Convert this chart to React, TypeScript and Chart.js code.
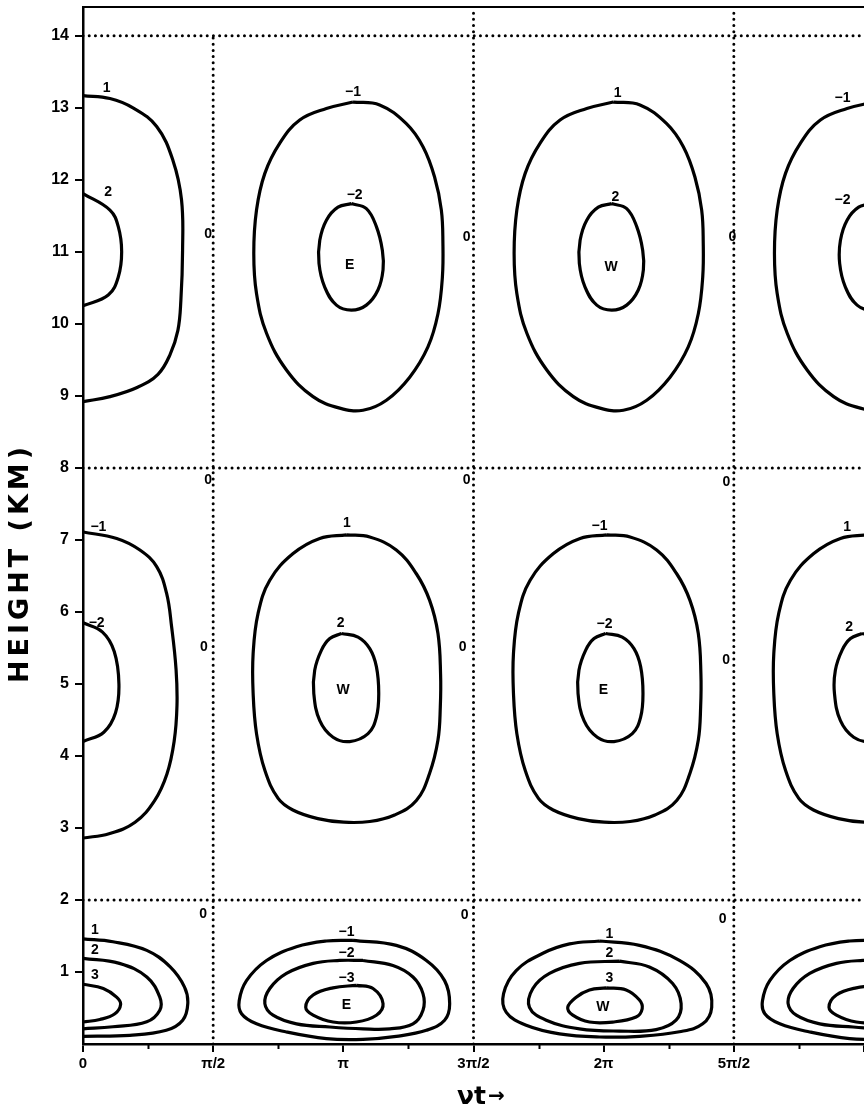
import React, { useEffect, useRef } from 'react';
import { Chart, registerables } from 'chart.js';

Chart.register(...registerables);

type Pt = [number, number];

// x is the phase νt measured in units of π/2; y is height in km
const X_TICK_VALUES = [0, 1, 2, 3, 4, 5, 6];
const X_TICK_LABELS = ['0', 'π/2', 'π', '3π/2', '2π', '5π/2', ''];
const X_MINOR_TICKS = [0.5, 1.5, 2.5, 3.5, 4.5, 5.5];
const Y_TICK_LABELS = ['', '1', '2', '3', '4', '5', '6', '7', '8', '9', '10', '11', '12', '13', '14'];

// dotted reference lines (zero lines of the field)
const REF_HEIGHTS = [2, 8, 14];
const REF_PHASES = [1, 3, 5];
const REF_PHASE_TOPS = [14, 14.4, 14.4];

// ---- contours (upper row, cell at νt = π) ----
const TOP_OUTER: Pt[] = [
  [2.074, 13.08], [2.279, 13.04], [2.484, 12.78], [2.612, 12.46], [2.701, 12.04], [2.753, 11.58],
  [2.765, 11.12], [2.761, 10.65], [2.727, 10.14], [2.65, 9.68], [2.51, 9.26], [2.331, 8.94],
  [2.151, 8.8], [1.972, 8.83], [1.767, 8.99], [1.563, 9.36], [1.41, 9.87], [1.333, 10.42],
  [1.312, 10.98], [1.333, 11.58], [1.397, 12.09], [1.512, 12.51], [1.665, 12.83], [1.87, 12.99],
];
const TOP_INNER: Pt[] = [
  [2.062, 11.67], [2.177, 11.6], [2.254, 11.35], [2.3, 11.02], [2.305, 10.75], [2.266, 10.47],
  [2.177, 10.26], [2.062, 10.19], [1.947, 10.26], [1.857, 10.51], [1.813, 10.84], [1.819, 11.16],
  [1.87, 11.44], [1.959, 11.62],
];
// ---- middle row, cell at νt = π ----
const MID_OUTER: Pt[] = [
  [2.024, 7.07], [2.203, 7.04], [2.407, 6.86], [2.561, 6.53], [2.663, 6.16], [2.727, 5.7],
  [2.747, 5.14], [2.745, 4.68], [2.727, 4.22], [2.663, 3.76], [2.561, 3.38], [2.394, 3.18],
  [2.203, 3.09], [2.003, 3.08], [1.804, 3.13], [1.612, 3.25], [1.499, 3.41], [1.397, 3.8],
  [1.333, 4.31], [1.307, 4.87], [1.307, 5.42], [1.345, 5.98], [1.435, 6.44], [1.614, 6.81],
  [1.819, 7.02],
];
const MID_INNER: Pt[] = [
  [1.985, 5.7], [2.113, 5.65], [2.203, 5.49], [2.254, 5.24], [2.272, 4.87], [2.254, 4.54],
  [2.19, 4.31], [2.049, 4.2], [1.921, 4.26], [1.819, 4.49], [1.773, 4.87], [1.78, 5.19],
  [1.832, 5.47], [1.896, 5.63],
];
// ---- half cells on the left edge (νt = 0) ----
const LEFT_TOP_OUTER: Pt[] = [
  [0, 13.17], [0.207, 13.13], [0.384, 13.0], [0.566, 12.74], [0.691, 12.27], [0.757, 11.72],
  [0.765, 11.02], [0.752, 10.33], [0.729, 9.91], [0.668, 9.57], [0.576, 9.3], [0.42, 9.12],
  [0.207, 8.99], [0, 8.92],
];
const LEFT_TOP_INNER: Pt[] = [
  [0, 11.81], [0.207, 11.58], [0.271, 11.35], [0.297, 11.0], [0.271, 10.65], [0.194, 10.4], [0, 10.25],
];
const LEFT_MID_OUTER: Pt[] = [
  [0, 7.11], [0.259, 7.02], [0.437, 6.86], [0.566, 6.63], [0.642, 6.26], [0.681, 5.79],
  [0.715, 5.2], [0.722, 4.7], [0.7, 4.2], [0.645, 3.75], [0.55, 3.38], [0.4, 3.08], [0.2, 2.92], [0, 2.86],
];
const LEFT_MID_INNER: Pt[] = [
  [0, 5.85], [0.15, 5.72], [0.24, 5.45], [0.276, 5.0], [0.25, 4.6], [0.16, 4.33], [0, 4.2],
];
// ---- lower cells ----
const LOW_PI_1: Pt[] = [
  [2.074, 1.44], [2.407, 1.37], [2.638, 1.16], [2.778, 0.88], [2.817, 0.56], [2.778, 0.33],
  [2.638, 0.19], [2.407, 0.107], [2.151, 0.065], [1.87, 0.075], [1.563, 0.167], [1.333, 0.28],
  [1.218, 0.42], [1.2, 0.6], [1.256, 0.88], [1.41, 1.16], [1.64, 1.35], [1.87, 1.43],
];
const LOW_PI_2: Pt[] = [
  [2.151, 1.16], [2.381, 1.09], [2.535, 0.93], [2.612, 0.7], [2.612, 0.47], [2.535, 0.28],
  [2.356, 0.21], [2.151, 0.21], [1.896, 0.236], [1.64, 0.28], [1.46, 0.4], [1.397, 0.56],
  [1.435, 0.77], [1.563, 0.98], [1.768, 1.12], [1.972, 1.16],
];
const LOW_PI_3: Pt[] = [
  [2.1, 0.815], [2.228, 0.77], [2.305, 0.56], [2.254, 0.4], [2.1, 0.305], [1.921, 0.305],
  [1.768, 0.4], [1.711, 0.51], [1.768, 0.68], [1.921, 0.78],
];
const LOW_2PI_1: Pt[] = [
  [3.968, 1.43], [4.275, 1.37], [4.582, 1.16], [4.787, 0.84], [4.83, 0.51], [4.761, 0.28],
  [4.582, 0.17], [4.275, 0.107], [3.968, 0.097], [3.661, 0.14], [3.405, 0.26], [3.252, 0.44],
  [3.231, 0.7], [3.328, 1.02], [3.533, 1.26], [3.738, 1.39],
];
const LOW_2PI_2: Pt[] = [
  [4.121, 1.15], [4.351, 1.07], [4.53, 0.84], [4.595, 0.56], [4.556, 0.33], [4.403, 0.2],
  [4.121, 0.18], [3.814, 0.21], [3.559, 0.33], [3.43, 0.51], [3.456, 0.77], [3.584, 0.98], [3.814, 1.12],
];
const LOW_2PI_3: Pt[] = [
  [4.019, 0.78], [4.173, 0.75], [4.275, 0.61], [4.296, 0.49], [4.249, 0.375], [4.07, 0.305],
  [3.891, 0.305], [3.763, 0.4], [3.724, 0.51], [3.789, 0.65], [3.891, 0.75],
];
const LEFT_LOW_1: Pt[] = [
  [0, 1.46], [0.23, 1.42], [0.49, 1.3], [0.67, 1.07], [0.78, 0.79], [0.805, 0.56], [0.766, 0.33],
  [0.64, 0.19], [0.36, 0.12], [0, 0.107],
];
const LEFT_LOW_2: Pt[] = [
  [0, 1.19], [0.28, 1.12], [0.49, 0.93], [0.59, 0.65], [0.59, 0.47], [0.49, 0.31], [0.23, 0.24], [0, 0.21],
];
const LEFT_LOW_3: Pt[] = [
  [0, 0.83], [0.156, 0.77], [0.258, 0.65], [0.289, 0.55], [0.245, 0.42], [0.13, 0.34], [0, 0.305],
];

// phase offsets (π/2 units) at which the repeating cells were found in the picture
const TOP_CELL_SHIFTS = [0, 2, 4];
const MID_OUTER_SHIFTS = [0, 2, 4];
const MID_INNER_SHIFTS = [0, 2.03, 4];
const LOW_PI_SHIFTS = [0, 4.02];

// contour value labels: text, phase, height
const CONTOUR_LABELS: [string, number, number][] = [
  ['1', 0.182, 13.27], ['2', 0.194, 11.83], ['0', 0.962, 11.25], ['−1', 2.074, 13.22], ['−2', 2.087, 11.79],
  ['E', 2.049, 10.82], ['0', 2.947, 11.2], ['1', 4.108, 13.2], ['2', 4.091, 11.76], ['W', 4.058, 10.79],
  ['0', 4.988, 11.2], ['−1', 5.835, 13.13], ['−2', 5.835, 11.72],
  ['0', 0.962, 7.83], ['0', 2.947, 7.83], ['0', 4.942, 7.8],
  ['−1', 0.118, 7.18], ['−2', 0.105, 5.85], ['0', 0.929, 5.51], ['1', 2.028, 7.23], ['2', 1.98, 5.84],
  ['W', 1.998, 4.91], ['0', 2.916, 5.51], ['−1', 3.968, 7.19], ['−2', 4.006, 5.83], ['E', 3.998, 4.91],
  ['0', 4.94, 5.33], ['1', 5.871, 7.18], ['2', 5.886, 5.79],
  ['0', 0.923, 1.81], ['0', 2.932, 1.79], ['0', 4.914, 1.73],
  ['1', 0.092, 1.58], ['2', 0.092, 1.3], ['3', 0.092, 0.95], ['−1', 2.024, 1.56], ['−2', 2.024, 1.26],
  ['−3', 2.024, 0.91], ['E', 2.024, 0.54], ['1', 4.044, 1.53], ['2', 4.044, 1.26], ['3', 4.044, 0.91],
  ['W', 3.993, 0.51],
];

const Y_TITLE = 'HEIGHT (KM)';
const X_TITLE_NU = 'νt';
const X_TITLE_ARROW = '→';

const SANS = '"Liberation Sans", Arial, sans-serif';
const BOLD_TITLE = '"DejaVu Sans", sans-serif';

function closedLoop(pts: Pt[], dx: number) {
  const out = pts.map(([x, y]) => ({ x: x + dx, y }));
  out.push({ ...out[0] });
  return out;
}
function openPath(pts: Pt[]) {
  return pts.map(([x, y]) => ({ x, y }));
}

function buildDatasets() {
  const dotted = {
    borderColor: '#000',
    borderWidth: 3,
    borderDash: [0.01, 6.2],
    borderCapStyle: 'round',
    pointRadius: 0,
    tension: 0,
    fill: false,
  };
  const solid = {
    borderColor: '#000',
    borderWidth: 3.2,
    pointRadius: 0,
    tension: 0.4,
    fill: false,
    borderJoinStyle: 'round',
  };
  const ds: any[] = [];
  REF_HEIGHTS.forEach((h) => ds.push({ ...dotted, data: [{ x: 0, y: h }, { x: 6, y: h }] }));
  REF_PHASES.forEach((p, i) =>
    ds.push({ ...dotted, data: [{ x: p, y: 0 }, { x: p, y: REF_PHASE_TOPS[i] }] })
  );
  TOP_CELL_SHIFTS.forEach((s) => {
    ds.push({ ...solid, data: closedLoop(TOP_OUTER, s) });
    ds.push({ ...solid, data: closedLoop(TOP_INNER, s) });
  });
  MID_OUTER_SHIFTS.forEach((s) => ds.push({ ...solid, data: closedLoop(MID_OUTER, s) }));
  MID_INNER_SHIFTS.forEach((s) => ds.push({ ...solid, data: closedLoop(MID_INNER, s) }));
  LOW_PI_SHIFTS.forEach((s) => {
    ds.push({ ...solid, data: closedLoop(LOW_PI_1, s) });
    ds.push({ ...solid, data: closedLoop(LOW_PI_2, s) });
    ds.push({ ...solid, data: closedLoop(LOW_PI_3, s) });
  });
  [LOW_2PI_1, LOW_2PI_2, LOW_2PI_3].forEach((c) => ds.push({ ...solid, data: closedLoop(c, 0) }));
  [LEFT_TOP_OUTER, LEFT_TOP_INNER, LEFT_MID_OUTER, LEFT_MID_INNER, LEFT_LOW_1, LEFT_LOW_2, LEFT_LOW_3].forEach(
    (c) => ds.push({ ...solid, data: openPath(c) })
  );
  return ds;
}

const overlayPlugin = {
  id: 'overlay',
  afterDatasetsDraw(chart: any) {
    const { ctx, chartArea: a, scales } = chart;
    const xs = scales.x;
    const ys = scales.y;
    ctx.save();
    ctx.strokeStyle = '#000';
    ctx.lineWidth = 2.2;
    ctx.beginPath();
    ctx.moveTo(a.left, a.top);
    ctx.lineTo(a.right, a.top);
    ctx.stroke();
    ctx.lineWidth = 2;
    ctx.beginPath();
    X_MINOR_TICKS.forEach((v) => {
      const px = Math.round(xs.getPixelForValue(v)) + 0.5;
      ctx.moveTo(px, a.bottom);
      ctx.lineTo(px, a.bottom + 5);
    });
    ctx.stroke();
    ctx.fillStyle = '#000';
    ctx.font = `bold 14px ${SANS}`;
    ctx.textAlign = 'center';
    ctx.textBaseline = 'middle';
    CONTOUR_LABELS.forEach(([t, x, y]) => {
      ctx.fillText(t, xs.getPixelForValue(x), ys.getPixelForValue(y));
    });
    ctx.restore();
  },
  afterDraw(chart: any) {
    const { ctx } = chart;
    ctx.save();
    ctx.fillStyle = '#000';
    ctx.translate(21, 563);
    ctx.rotate(-Math.PI / 2);
    ctx.font = `bold 27px ${BOLD_TITLE}`;
    try { (ctx as any).letterSpacing = '4px'; } catch (e) { /* ignore */ }
    ctx.textAlign = 'center';
    ctx.textBaseline = 'middle';
    ctx.fillText(Y_TITLE, 0, 0);
    ctx.restore();
    ctx.save();
    ctx.fillStyle = '#000';
    ctx.textAlign = 'left';
    ctx.textBaseline = 'alphabetic';
    ctx.font = `bold 25px ${BOLD_TITLE}`;
    ctx.fillText(X_TITLE_NU, 457, 1104);
    ctx.font = `bold 20px ${BOLD_TITLE}`;
    ctx.fillText(X_TITLE_ARROW, 488, 1102);
    ctx.restore();
  },
};

export default function App() {
  const ref = useRef<HTMLCanvasElement>(null);
  useEffect(() => {
    if (!ref.current) return;
    const chart = new Chart(ref.current, {
      type: 'line',
      data: { datasets: buildDatasets() },
      options: {
        responsive: false,
        devicePixelRatio: 1,
        animation: false,
        events: [],
        layout: { padding: { top: 7, left: 0, right: 0, bottom: 0 } },
        elements: { line: { capBezierPoints: false } },
        plugins: { legend: { display: false }, tooltip: { enabled: false } },
        scales: {
          x: {
            type: 'linear',
            min: 0,
            max: 6,
            afterFit: (s: any) => {
              s.height = 63;
              s.paddingLeft = 0;
              s.paddingRight = 0;
            },
            border: { display: true, color: '#000', width: 2.5 },
            grid: { display: true, drawOnChartArea: false, drawTicks: true, tickLength: 8, color: '#000', lineWidth: 2 },
            ticks: {
              stepSize: 1,
              autoSkip: false,
              maxRotation: 0,
              includeBounds: false,
              padding: 3,
              color: '#000',
              font: { family: SANS, size: 15, weight: 'bold' },
              callback: (v: any) => {
                const i = X_TICK_VALUES.indexOf(Number(v));
                return i >= 0 ? X_TICK_LABELS[i] : '';
              },
            },
          },
          y: {
            type: 'linear',
            min: 0,
            max: 14.4,
            afterFit: (s: any) => {
              s.width = 83;
              s.paddingTop = 0;
              s.paddingBottom = 0;
            },
            border: { display: true, color: '#000', width: 2.5 },
            grid: {
              display: true,
              drawOnChartArea: false,
              drawTicks: true,
              tickLength: 8,
              color: '#000',
              lineWidth: 2,
              tickColor: (c: any) => (c.tick && c.tick.value === 0 ? 'rgba(0,0,0,0)' : '#000'),
            },
            ticks: {
              stepSize: 1,
              autoSkip: false,
              includeBounds: false,
              padding: 6,
              color: '#000',
              font: { family: SANS, size: 16, weight: 'bold' },
              callback: (v: any) => Y_TICK_LABELS[Number(v)] ?? '',
            },
          },
        },
      } as any,
      plugins: [overlayPlugin],
    });
    return () => chart.destroy();
  }, []);
  return (
    <div style={{ position: 'absolute', left: 0, top: 0, width: 864, height: 1107, background: '#fff' }}>
      <canvas ref={ref} width={864} height={1107} style={{ display: 'block', width: 864, height: 1107 }} />
    </div>
  );
}
